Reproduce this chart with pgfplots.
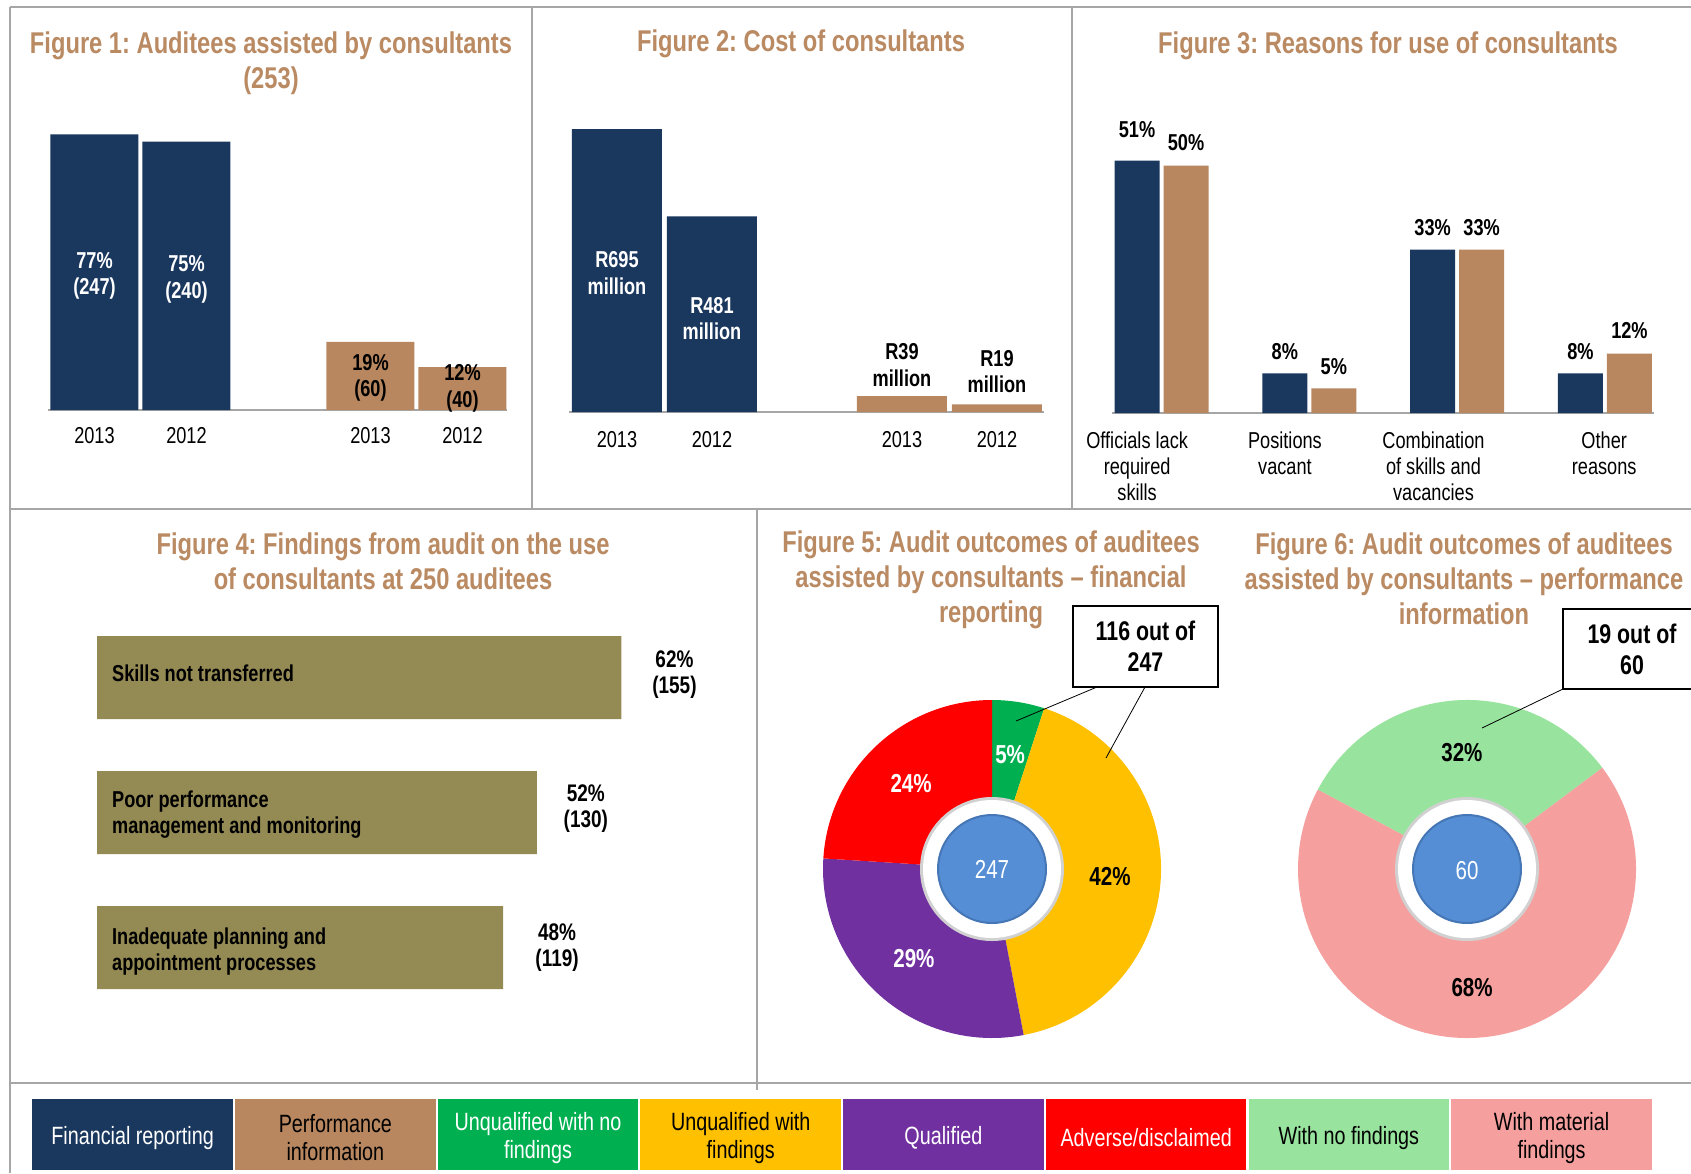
\documentclass[border=0pt]{standalone}
\usepackage{pgfplots}
\pgfplotsset{compat=1.18}
\usepackage{fontspec}
\setmainfont{Liberation Sans}[FakeStretch=0.79]
\definecolor{cNavy}{HTML}{1A375E}
\definecolor{cTan}{HTML}{B8875F}
\definecolor{cOlive}{HTML}{948A54}
\definecolor{cTtl}{HTML}{BA8A63}
\definecolor{cFrame}{HTML}{A6A6A6}
\definecolor{cGreen}{HTML}{00B050}
\definecolor{cYellow}{HTML}{FFC000}
\definecolor{cPurple}{HTML}{7030A0}
\definecolor{cRed}{HTML}{FF0000}
\definecolor{cLGreen}{HTML}{98E49E}
\definecolor{cPink}{HTML}{F5A09E}
\definecolor{cBlue}{HTML}{558ED5}
\definecolor{cBlueB}{HTML}{4576B5}
\newcommand\ttlfont{\fontsize{15}{17.5}\selectfont\bfseries}
\newcommand\lblfont{\fontsize{11.5}{13.2}\selectfont\bfseries}
\newcommand\tickfont{\fontsize{11.5}{13}\selectfont}
\newcommand\catfont{\fontsize{11.5}{13}\selectfont}
\newcommand\ffont{\fontsize{11.5}{13.2}\selectfont\bfseries}
\newcommand\vfont{\fontsize{12}{13}\selectfont\bfseries}
\newcommand\pfont{\fontsize{13}{15}\selectfont\bfseries}
\newcommand\cfont{\fontsize{13.5}{15.5}\selectfont\bfseries}
\newcommand\legfont{\fontsize{12.5}{14}\selectfont}
\newcommand\Rp{84.5pt}
\pgfplotsset{
  barax/.style={scale only axis, anchor=south west, axis x line=bottom, axis y line=none,
    x axis line style={draw=cFrame, line width=1pt, -}, major tick length=0pt,
    xticklabel style={font=\tickfont, yshift=-5pt}, ymin=0, clip=false,
    /pgf/number format/assume math mode=true},
  pieax/.style={scale only axis, anchor=center, width=169pt, height=169pt,
    xmin=-1, xmax=1, ymin=-1, ymax=1, hide axis, clip=false},
}
\begin{document}
\frenchspacing
\begin{tikzpicture}
\path[use as bounding box] (0,0) rectangle (845.5pt,-586.5pt);
\fill[white] (0,0) rectangle (845.5pt,-586.5pt);
\begin{scope}[x=0.5pt,y=-0.5pt]
 \draw[cFrame, line width=1pt] (10,6.5) -- (1691,6.5);
 \draw[cFrame, line width=1pt] (10,6.5) -- (10,1173);
 \draw[cFrame, line width=1pt] (532,6.5) -- (532,509);
 \draw[cFrame, line width=1pt] (1072,6.5) -- (1072,509);
 \draw[cFrame, line width=1pt] (10,509) -- (1691,509);
 \draw[cFrame, line width=1pt] (757,509) -- (757,1090);
 \draw[cFrame, line width=1pt] (10,1083) -- (1691,1083);
 \node[font=\ttlfont, text=cTtl, align=center] at (271,63.5) {Figure 1: Auditees assisted by consultants\\(253)};
 \node[font=\ttlfont, text=cTtl, align=center] at (801,44) {Figure 2: Cost of consultants};
 \node[font=\ttlfont, text=cTtl, align=center] at (1388,46) {Figure 3: Reasons for use of consultants};
 \node[font=\ttlfont, text=cTtl, align=center] at (383,561) {Figure 4: Findings from audit on the use\\of consultants at 250 auditees};
 \node[font=\ttlfont, text=cTtl, align=center] at (991,580) {Figure 5: Audit outcomes of auditees\\assisted by consultants -- financial\\reporting};
 \node[font=\ttlfont, text=cTtl, align=center] at (1464,579) {Figure 6: Audit outcomes of auditees\\assisted by consultants -- performance\\information};
\end{scope}

% Figure 1
\begin{axis}[barax, at={(24pt,-205pt)}, width=229.5pt, height=143.2pt,
  xmin=-0.5054, xmax=4.484, ymax=80,
  xtick={0,1,3,4}, xticklabels={2013,2012,2013,2012},
  ybar, bar width=44pt]
\addplot[fill=cNavy, draw=none, bar shift=0pt] coordinates {(0,77) (1,75)};
\addplot[fill=cTan, draw=none, bar shift=0pt] coordinates {(3,19) (4,12)};
\node[text=white, font=\lblfont, align=center] at (axis cs:0,37.4) {77\%\\(247)};
\node[text=white, font=\lblfont, align=center] at (axis cs:1,36.5) {75\%\\(240)};
\node[text=black, font=\lblfont, align=center] at (axis cs:3,9.0) {19\%\\(60)};
\node[text=black, font=\lblfont, align=center] at (axis cs:4,6.0) {12\%\\(40)};
\end{axis}

% Figure 2
\begin{axis}[barax, at={(284.5pt,-206pt)}, width=237.5pt, height=152.6pt,
  xmin=-0.505, xmax=4.495, ymax=750,
  xtick={0,1,3,4}, xticklabels={2013,2012,2013,2012},
  xticklabel style={yshift=-1pt},
  ybar, bar width=45pt]
\addplot[fill=cNavy, draw=none, bar shift=0pt] coordinates {(0,695) (1,481)};
\addplot[fill=cTan, draw=none, bar shift=0pt] coordinates {(3,39) (4,19)};
\node[text=white, font=\lblfont, align=center] at (axis cs:0,341) {R695\\million};
\node[text=white, font=\lblfont, align=center] at (axis cs:1,230) {R481\\million};
\node[text=black, font=\lblfont, align=center] at (axis cs:3,115) {R39\\million};
\node[text=black, font=\lblfont, align=center] at (axis cs:4,100) {R19\\million};
\end{axis}

% Figure 3
\begin{axis}[barax, at={(556pt,-206.5pt)}, width=271pt, height=148.5pt,
  xmin=-0.335, xmax=3.332, ymax=60,
  xtick={-0.165,0.835,1.84,2.995},
  xticklabels={{Officials lack\\required\\skills},{Positions\\vacant},{Combination\\of skills and\\vacancies},{Other\\reasons}},
  xticklabel style={font=\catfont, align=center, yshift=-1pt},
  ybar, bar width=22.5pt]
\addplot[fill=cNavy, draw=none, bar shift=-12.25pt] coordinates {(0,51) (1,8) (2,33) (3,8)};
\addplot[fill=cTan, draw=none, bar shift=12.25pt] coordinates {(0,50) (1,5) (2,33) (3,12)};
\node[font=\lblfont] at ([xshift=-12.25pt,yshift=15.5pt]axis cs:0,51) {51\%};
\node[font=\lblfont] at ([xshift=12.25pt,yshift=11.5pt]axis cs:0,50) {50\%};
\node[font=\lblfont] at ([xshift=-12.25pt,yshift=11pt]axis cs:1,8) {8\%};
\node[font=\lblfont] at ([xshift=12.25pt,yshift=11pt]axis cs:1,5) {5\%};
\node[font=\lblfont] at ([xshift=-12.25pt,yshift=11pt]axis cs:2,33) {33\%};
\node[font=\lblfont] at ([xshift=12.25pt,yshift=11pt]axis cs:2,33) {33\%};
\node[font=\lblfont] at ([xshift=-12.25pt,yshift=11pt]axis cs:3,8) {8\%};
\node[font=\lblfont] at ([xshift=12.25pt,yshift=11.5pt]axis cs:3,12) {12\%};
\end{axis}

% Figure 4
\begin{axis}[scale only axis, anchor=center, at={(196.55pt,-406.25pt)}, width=296pt, height=202.5pt,
  xmin=0, xmax=70, ymin=-0.5, ymax=2.5, y dir=reverse, hide axis, clip=false,
  xbar, bar width=41.5pt]
\addplot[fill=cOlive, draw=none, bar shift=0pt] coordinates {(62,0) (52,1) (48,2)};
\node[font=\ffont, anchor=west, align=left] at ([xshift=4pt,yshift=2pt]axis cs:0,0) {Skills not transferred};
\node[font=\ffont, anchor=west, align=left] at ([xshift=4pt,yshift=-1pt]axis cs:0,1) {Poor performance\\management and monitoring};
\node[font=\ffont, anchor=west, align=left] at ([xshift=4pt,yshift=-2pt]axis cs:0,2) {Inadequate planning and\\appointment processes};
\node[font=\vfont, align=center] at ([xshift=26.5pt,yshift=1.5pt]axis cs:62,0) {62\%\\(155)};
\node[font=\vfont, align=center] at ([xshift=24.5pt,yshift=2pt]axis cs:52,1) {52\%\\(130)};
\node[font=\vfont, align=center] at ([xshift=27pt,yshift=0pt]axis cs:48,2) {48\%\\(119)};
\end{axis}

% Figure 5 (pie): unqualified no findings 5, with findings 42, qualified 29, adverse 24
\begin{axis}[pieax, at={(496pt,-434.5pt)}]
\fill[cGreen] (axis cs:0,0) -- ++(90:\Rp) arc[start angle=90, delta angle={-3.6*5}, radius=\Rp] -- cycle;
\fill[cYellow] (axis cs:0,0) -- ++({90-3.6*5}:\Rp) arc[start angle={90-3.6*5}, delta angle={-3.6*42}, radius=\Rp] -- cycle;
\fill[cPurple] (axis cs:0,0) -- ++({90-3.6*47}:\Rp) arc[start angle={90-3.6*47}, delta angle={-3.6*29}, radius=\Rp] -- cycle;
\fill[cRed] (axis cs:0,0) -- ++({90-3.6*76}:\Rp) arc[start angle={90-3.6*76}, delta angle={-3.6*24}, radius=\Rp] -- cycle;
\fill[black!18] (axis cs:0,0) circle[radius=36pt];
\fill[white] (axis cs:0,0) circle[radius=34.5pt];
\filldraw[fill=cBlue, draw=cBlueB, line width=1pt] (axis cs:0,0) circle[radius=27pt];
\node[text=white, font=\pfont] at (axis cs:0.107,0.675) {5\%};
\node[text=black, font=\pfont] at (axis cs:0.698,-0.047) {42\%};
\node[text=white, font=\pfont] at (axis cs:-0.462,-0.527) {29\%};
\node[text=white, font=\pfont] at (axis cs:-0.479,0.503) {24\%};
\node[text=white, font=\fontsize{13}{15}\selectfont] at (axis cs:0,0) {247};
\end{axis}

% Figure 6 (pie): with no findings 32, with material findings 68
\begin{axis}[pieax, at={(733.5pt,-434.5pt)}]
\fill[cLGreen] (axis cs:0,0) -- ++(152:\Rp) arc[start angle=152, delta angle={-3.6*32}, radius=\Rp] -- cycle;
\fill[cPink] (axis cs:0,0) -- ++({152-3.6*32}:\Rp) arc[start angle={152-3.6*32}, delta angle={-3.6*68}, radius=\Rp] -- cycle;
\fill[black!18] (axis cs:0,0) circle[radius=36pt];
\fill[white] (axis cs:0,0) circle[radius=34.5pt];
\filldraw[fill=cBlue, draw=cBlueB, line width=1pt] (axis cs:0,0) circle[radius=27pt];
\node[text=black, font=\pfont] at (axis cs:-0.03,0.69) {32\%};
\node[text=black, font=\pfont] at (axis cs:0.03,-0.70) {68\%};
\node[text=white, font=\fontsize{13}{15}\selectfont] at (axis cs:0,-0.01) {60};
\end{axis}

\begin{scope}[x=0.5pt,y=-0.5pt]
 % callouts
 \draw[black, line width=0.4pt] (1097,687) -- (1016,721);
 \draw[black, line width=0.4pt] (1145,687) -- (1106,758);
 \filldraw[fill=white, draw=black, line width=0.8pt] (1073,606) rectangle (1218,687);
 \node[font=\cfont, align=center] at (1145.5,646.5) {116 out of\\247};
 \draw[black, line width=0.4pt] (1563,689) -- (1482,728);
 \fill[white] (1563,609) rectangle (1691,689);
 \draw[black, line width=0.8pt] (1691,609) -- (1563,609) -- (1563,689) -- (1691,689);
 \node[font=\cfont, align=center] at (1632,649) {19 out of\\60};
 % legend
 \tikzset{lg/.style={inner sep=0pt, align=center, font=\legfont}}
 \fill[cNavy]   (32.35,1099) rectangle ++(200.6,71);
 \fill[cTan]    (235.05,1099) rectangle ++(200.6,71);
 \fill[cGreen]  (437.75,1099) rectangle ++(200.6,71);
 \fill[cYellow] (640.45,1099) rectangle ++(200.6,71);
 \fill[cPurple] (843.15,1099) rectangle ++(200.6,71);
 \fill[cRed]    (1045.85,1099) rectangle ++(200.6,71);
 \fill[cLGreen] (1248.55,1099) rectangle ++(200.6,71);
 \fill[cPink]   (1451.25,1099) rectangle ++(200.6,71);
 \node[lg, text=white] at (132.65,1138) {Financial reporting};
 \node[lg, text=black] at (335.35,1138) {Performance\\information};
 \node[lg, text=white] at (538.05,1138) {Unqualified with no\\findings};
 \node[lg, text=black] at (740.75,1138) {Unqualified with\\findings};
 \node[lg, text=white] at (943.45,1138) {Qualified};
 \node[lg, text=white] at (1146.15,1138) {Adverse/disclaimed};
 \node[lg, text=black] at (1348.85,1138) {With no findings};
 \node[lg, text=black] at (1551.55,1138) {With material\\findings};
\end{scope}
\end{tikzpicture}
\end{document}
